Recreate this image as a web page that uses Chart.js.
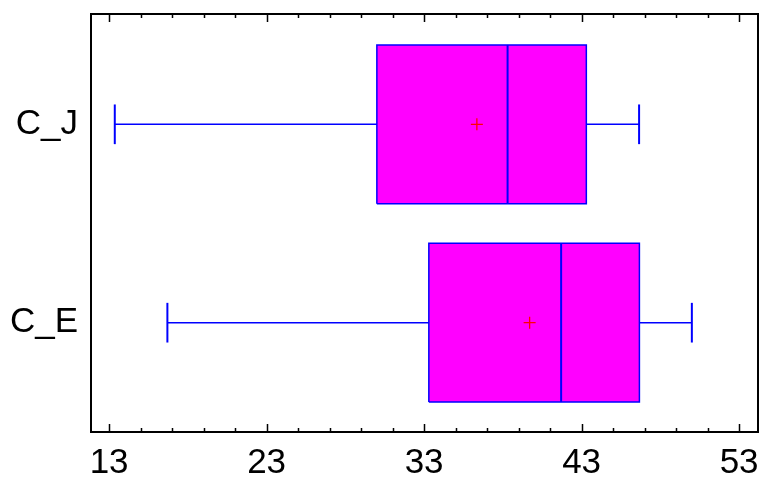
<!DOCTYPE html>
<html>
<head>
<meta charset="utf-8">
<script src="https://cdn.jsdelivr.net/npm/chart.js@4/dist/chart.umd.min.js"></script>
<style>
  html, body { margin: 0; padding: 0; background: #fff; }
  #wrap { width: 760px; height: 479px; }
</style>
</head>
<body>
<div id="wrap"><canvas id="canvas"></canvas></div>
<script>
// box plot values
let categories = ['C_J', 'C_E'];
let mins = [13.36, 16.7];
let q1s = [30.0, 33.3];
let medians = [38.3, 41.7];
let q3s = [43.3, 46.67];
let maxs = [46.65, 50.0];
let means = [36.35, 39.7];
let xTicks = [13, 23, 33, 43, 53];

// C_J sits on top, so it gets the higher y value
let catPos = categories.map((c, i) => categories.length - 1 - i);

const boxHalf = 0.4;
const capHalf = 0.1;
const blue = '#0000ff';
const labelFont = { family: '"Liberation Sans", Arial, sans-serif', size: 35 };

let datasets = [];

// means on top
datasets.push({
  data: categories.map((c, i) => ({ x: means[i], y: catPos[i] })),
  pointStyle: 'cross',
  pointRadius: 6,
  pointBorderWidth: 1.3,
  borderColor: '#ff0000',
  backgroundColor: '#ff0000',
  showLine: false
});

function seg(points, width) {
  datasets.push({
    data: points,
    showLine: true,
    borderColor: blue,
    borderWidth: width,
    pointRadius: 0,
    fill: false
  });
}

categories.forEach((c, i) => {
  let y = catPos[i];
  // median
  seg([{ x: medians[i], y: y - boxHalf }, { x: medians[i], y: y + boxHalf }], 2);
  // whiskers
  seg([{ x: mins[i], y: y }, { x: q1s[i], y: y }], 1.5);
  seg([{ x: q3s[i], y: y }, { x: maxs[i], y: y }], 1.5);
  // caps
  seg([{ x: mins[i], y: y - capHalf }, { x: mins[i], y: y + capHalf }], 2);
  seg([{ x: maxs[i], y: y - capHalf }, { x: maxs[i], y: y + capHalf }], 2);
});

// boxes last so they are drawn underneath
categories.forEach((c, i) => {
  let y = catPos[i];
  datasets.push({
    data: [
      { x: q1s[i], y: y - boxHalf },
      { x: q3s[i], y: y - boxHalf },
      { x: q3s[i], y: y + boxHalf },
      { x: q1s[i], y: y + boxHalf },
      { x: q1s[i], y: y - boxHalf }
    ],
    showLine: true,
    fill: 'shape',
    backgroundColor: '#ff00ff',
    borderColor: blue,
    borderWidth: 1.5,
    pointRadius: 0,
    tension: 0
  });
});

// frame and inward tick marks
const framePlugin = {
  id: 'frame',
  afterDraw(chart) {
    const ctx = chart.ctx;
    const a = chart.chartArea;
    const xs = chart.scales.x;
    ctx.save();
    ctx.strokeStyle = '#000';
    ctx.lineWidth = 1.5;
    for (let v = 13; v <= 53; v += 2) {
      let px = Math.round(xs.getPixelForValue(v)) + 0.5;
      let len = (v - 13) % 10 === 0 ? 8 : 4;
      ctx.beginPath();
      ctx.moveTo(px, a.bottom);
      ctx.lineTo(px, a.bottom - len);
      ctx.moveTo(px, a.top);
      ctx.lineTo(px, a.top + len);
      ctx.stroke();
    }
    ctx.lineWidth = 2;
    ctx.strokeRect(a.left, a.top, a.right - a.left, a.bottom - a.top);
    ctx.restore();
  }
};

const ctx = document.getElementById('canvas');
const myChart = new Chart(ctx, {
  type: 'scatter',
  data: { datasets: datasets },
  options: {
    responsive: true,
    maintainAspectRatio: false,
    animation: false,
    layout: { autoPadding: false, padding: { top: 14, right: 2, left: 0, bottom: 0 } },
    plugins: {
      legend: { display: false },
      tooltip: { enabled: false }
    },
    scales: {
      x: {
        type: 'linear',
        min: 11.85,
        max: 54.2,
        afterBuildTicks: axis => { axis.ticks = xTicks.map(v => ({ value: v })); },
        afterFit: axis => {
          axis.height = 47;
          axis.paddingLeft = 0;
          axis.paddingRight = 0;
        },
        grid: { display: false, drawTicks: false },
        border: { display: false },
        ticks: {
          padding: 10,
          color: '#000',
          font: labelFont,
          maxRotation: 0
        }
      },
      y: {
        type: 'linear',
        min: -0.551,
        max: 1.556,
        afterBuildTicks: axis => { axis.ticks = catPos.map(v => ({ value: v })); },
        afterFit: axis => {
          axis.width = 91;
          axis.paddingTop = 0;
          axis.paddingBottom = 0;
        },
        grid: { display: false, drawTicks: false },
        border: { display: false },
        ticks: {
          padding: 13,
          color: '#000',
          font: labelFont,
          callback: v => categories[catPos.indexOf(v)]
        }
      }
    }
  },
  plugins: [framePlugin]
});
</script>
</body>
</html>
